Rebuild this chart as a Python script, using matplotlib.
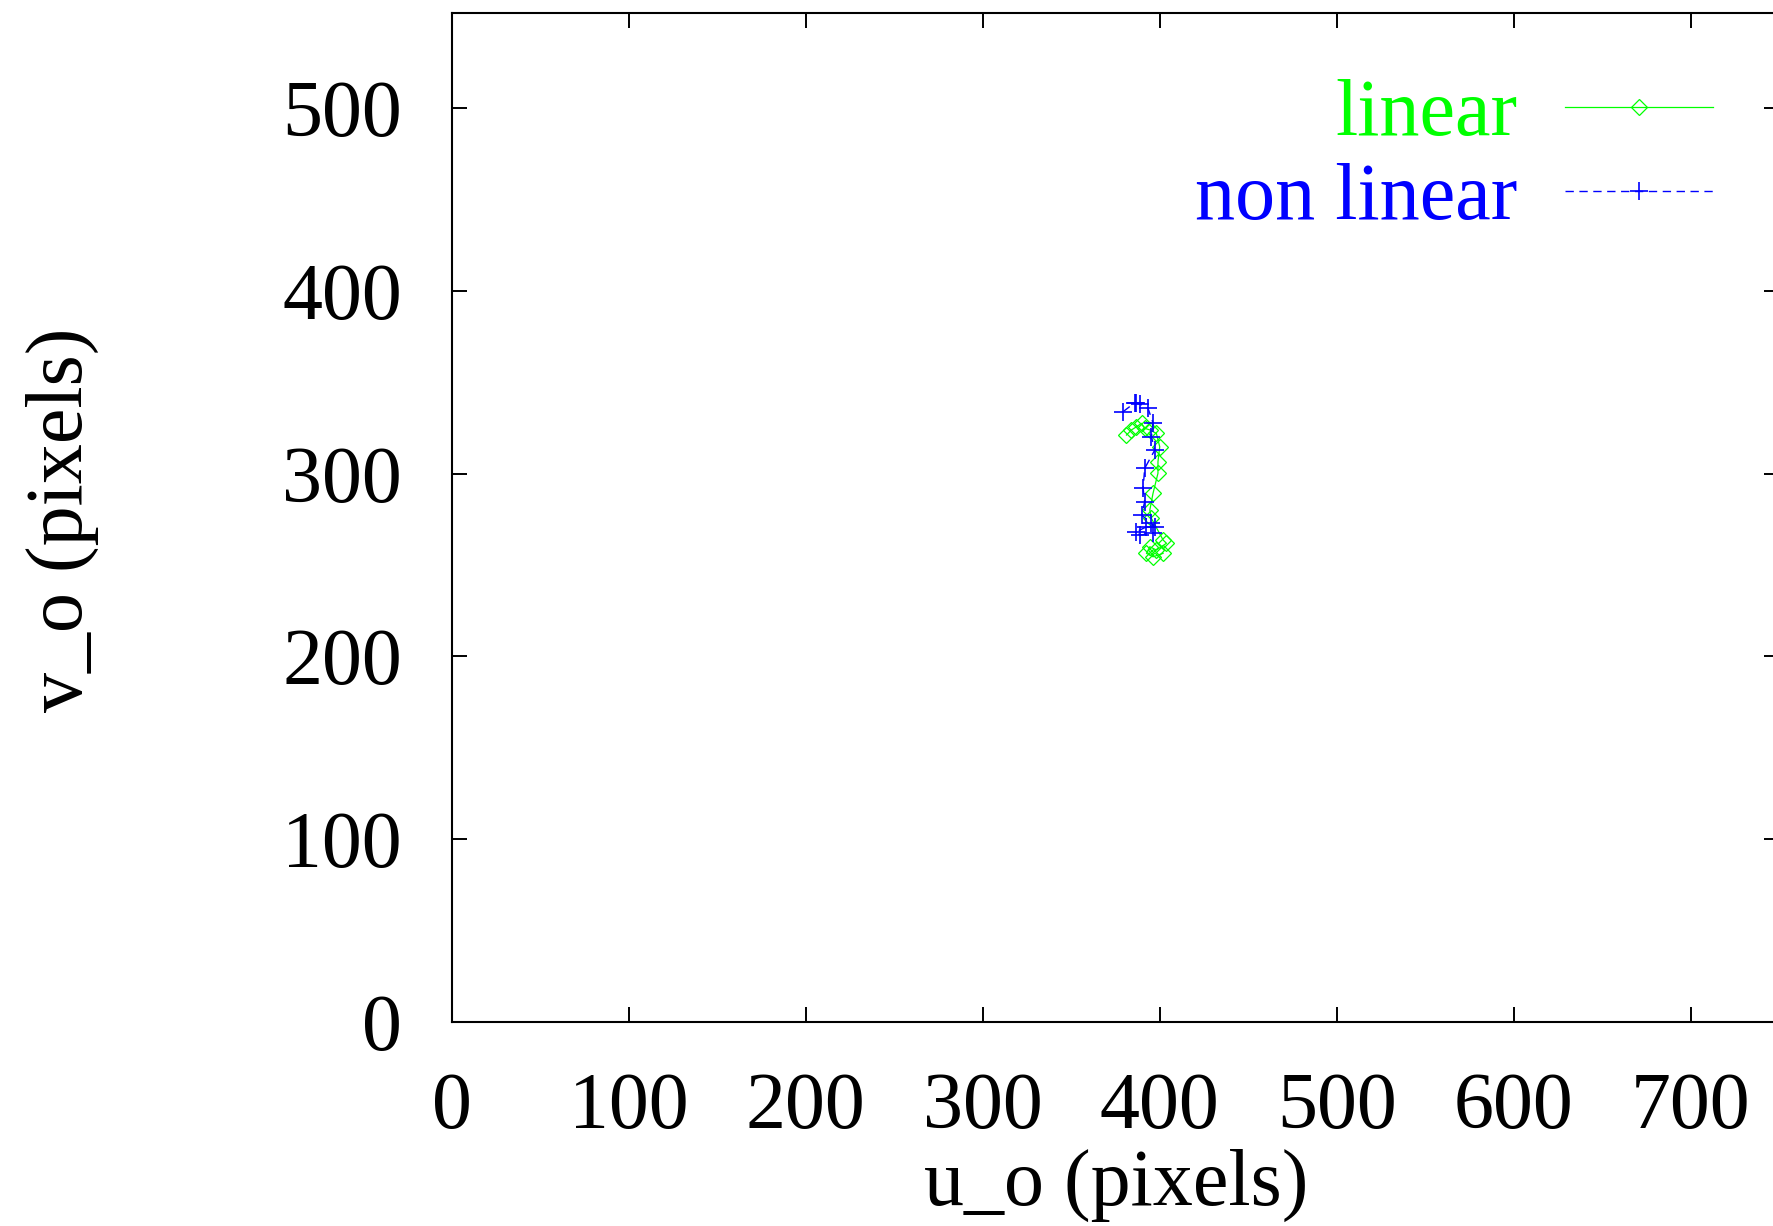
import numpy as np
import matplotlib
matplotlib.use("Agg")
import matplotlib.pyplot as plt

plt.rcParams['font.family'] = ['Liberation Serif', 'DejaVu Serif']

# trajectory of the optical centre (u_o, v_o)
lin_u = [381.2, 384.0, 386.8, 389.7, 391.5, 394.4, 398.1, 400.0, 399.0, 399.0,
         396.2, 394.4, 395.3, 401.9, 403.8, 398.1, 394.4, 392.5, 396.2, 401.9]
lin_v = [321.1, 323.9, 325.6, 327.5, 324.8, 323.9, 322.0, 314.7, 306.5, 300.2,
         289.2, 280.1, 275.5, 263.7, 261.9, 258.2, 260.0, 256.4, 254.5, 256.4]

nl_u = [379.3, 385.9, 386.8, 388.7, 393.4, 396.2, 395.3, 397.2, 391.5, 390.6,
        391.5, 389.7, 395.3, 397.2, 392.5, 386.8, 388.7, 396.2]
nl_v = [333.9, 338.8, 338.4, 338.1, 335.7, 327.8, 320.2, 312.9, 302.9, 292.0,
        284.6, 277.4, 272.8, 270.9, 270.9, 268.2, 266.4, 267.3]

xticks = [0, 100, 200, 300, 400, 500, 600, 700]
yticks = [0, 100, 200, 300, 400, 500]

fs = 57.6
fig = plt.figure(figsize=(17.74, 12.26), dpi=100)
ax = fig.add_axes([452 / 1774, 204 / 1226, 1327 / 1774, 1009 / 1226])

ax.plot(lin_u, lin_v, color='#00ff00', lw=0.9, marker='D', ms=8.5,
        mfc='none', mec='#00ff00', mew=0.9, label='linear')
ax.plot(nl_u, nl_v, color='#0000ff', lw=1.0, ls=(0, (6, 4)), marker='+', ms=13,
        mew=1.2, label='non linear')

ax.set_xlim(0, 750)
ax.set_ylim(0, 552)
ax.set_xticks(xticks)
ax.set_yticks(yticks)
ax.tick_params(direction='in', length=11, width=1.4, top=True, right=True,
               labelsize=fs, pad=36)
for s in ax.spines.values():
    s.set_linewidth(1.5)

fig.text(1116 / 1774, 1 - 1185 / 1226, 'u_o (pixels)', fontsize=fs,
         ha='center', va='center')
fig.text(62 / 1774, 1 - 520 / 1226, 'v_o (pixels)', fontsize=fs,
         ha='center', va='center', rotation=90)

leg = ax.legend(loc='upper right', bbox_to_anchor=(1.0, 1.0), frameon=False,
                markerfirst=False, numpoints=1, fontsize=fs, handlelength=1.85,
                handletextpad=0.6, labelspacing=0.14, borderaxespad=0.42,
                labelcolor='linecolor')

fig.savefig('out.png', dpi=100)
